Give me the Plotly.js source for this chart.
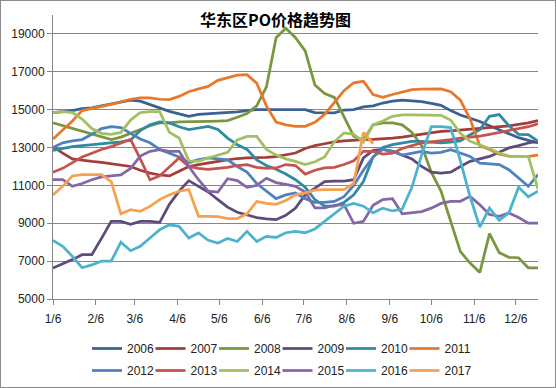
<!DOCTYPE html>
<html><head><meta charset="utf-8">
<script src="https://cdn.plot.ly/plotly-3.0.1.min.js"></script>
<style>
html,body{margin:0;padding:0;background:#fff}
#wrap{position:relative;width:556px;height:388px}
#chart{width:556px;height:388px}
#frame{position:absolute;left:0;top:0;width:556px;height:388px;box-sizing:border-box;border:1px solid #8c8c8c;pointer-events:none}
</style>
</head><body>
<div id="wrap"><div id="chart"></div><div id="frame"></div></div>
<script>
const weeks = ["2017-01-06","2017-01-13","2017-01-20","2017-01-27","2017-02-03","2017-02-10","2017-02-17","2017-02-24",
"2017-03-03","2017-03-10","2017-03-17","2017-03-24","2017-03-31","2017-04-07","2017-04-14","2017-04-21","2017-04-28",
"2017-05-05","2017-05-12","2017-05-19","2017-05-26","2017-06-02","2017-06-09","2017-06-16","2017-06-23","2017-06-30",
"2017-07-07","2017-07-14","2017-07-21","2017-07-28","2017-08-04","2017-08-11","2017-08-18","2017-08-25","2017-09-01",
"2017-09-08","2017-09-15","2017-09-22","2017-09-29","2017-10-06","2017-10-13","2017-10-20","2017-10-27","2017-11-03",
"2017-11-10","2017-11-17","2017-11-24","2017-12-01","2017-12-08","2017-12-15","2017-12-22"];
const tickDates = ["2017-01-06","2017-02-06","2017-03-06","2017-04-06","2017-05-06","2017-06-06","2017-07-06","2017-08-06","2017-09-06","2017-10-06","2017-11-06","2017-12-06"];
const tickLabels = ["1/6","2/6","3/6","4/6","5/6","6/6","7/6","8/6","9/6","10/6","11/6","12/6"];
const years = ["2006","2007","2008","2009","2010","2011","2012","2013","2014","2015","2016","2017"];
const colors = ["#3B6092","#A23D3A","#7A973F","#5F4A7C","#2F8AA2","#E8782A","#4F81BD","#C65350","#A2C062","#8467A6","#4CB3CC","#F7A04F"];

const p2006 = [14850,14900,14950,15050,15100,15200,15300,15380,15500,15450,15260,15080,14910,14780,14650,14750,14780,14790,14830,14880,14950,15000,15000,15000,15000,15000,15000,14850,14830,14830,14980,15000,15150,15200,15350,15450,15500,15480,15420,15330,15230,14950,14720,14550,14380,14150,13940,13720,13520,13380,13240];
const p2007 = [13050,12700,12400,12320,12270,12220,12150,12080,12000,11800,11650,11550,11500,11750,12000,12100,12200,12270,12350,12420,12450,12450,12480,12520,12600,12710,12950,13100,13200,13300,13350,13400,13420,13430,13450,13500,13550,13620,13700,13780,13850,13880,13920,13960,14000,14050,14100,14150,14220,14300,14420];
const p2008 = [14300,14150,14000,13850,13700,13550,13420,13550,13750,13950,14150,14300,14300,14350,14350,14380,14380,14400,14420,14600,14800,15200,16200,18800,19300,18800,18100,16300,15850,15650,14650,13600,13400,14200,14300,14300,14200,13800,13100,11700,10700,9100,7500,6900,6400,8450,7450,7200,7180,6650,6650];
const p2009 = [6640,6850,7080,7340,7340,8200,9100,9100,8950,9100,9100,9050,10000,10700,11250,10950,10650,10250,9850,9580,9420,9300,9230,9190,9420,9800,10500,10850,11200,11220,11220,11300,12450,12850,12900,12800,12600,12400,12000,11700,11650,11700,12000,12270,12400,12530,12750,12980,13100,13240,13330];
const p2010 = [12850,12950,13050,13100,13150,13200,13250,13300,13400,13900,14200,14350,14300,14100,13950,14050,14120,13950,13500,13150,12900,12350,12050,11850,11600,11300,10900,10250,9900,9900,10100,10500,11200,12500,13000,13150,13250,13330,13330,13300,13240,13280,13350,13680,13940,14650,14740,14150,13700,13680,13330];
const p2011 = [13450,13900,14400,14950,15050,15150,15280,15420,15550,15620,15620,15550,15530,15700,15950,16100,16230,16550,16700,16820,16850,16400,15200,14350,14200,14120,14120,14330,14750,15400,16000,16420,16500,15800,15650,15800,15950,16060,16080,16100,16100,15950,15500,14500,13100,12900,12650,12550,12530,12530,12600];
const p2012 = [13000,13250,13350,13420,13700,14000,14100,14050,13750,13450,13250,12900,12700,12500,12200,12360,12450,12400,12350,12000,11700,11100,10700,10300,10500,10600,10300,10100,10100,10150,10400,11000,11800,12500,12900,12800,12600,12700,12800,12700,12750,12890,12700,12530,12180,12150,12100,11830,11400,10950,11570];
const p2013 = [11700,11900,12200,12500,12700,12900,13050,13250,13420,12400,11300,11500,12000,12450,12000,11900,11850,11900,11950,12050,12100,11950,11900,11920,12100,12050,11600,11800,11920,11950,12100,12300,12800,12800,12650,12700,12950,13100,13240,13300,13350,13420,13500,13550,13600,13700,13800,13900,14000,14100,14250];
const p2014 = [14850,14900,14850,14500,14000,13750,13700,13800,14450,14850,14900,14900,13800,13500,12300,12280,12450,12600,12750,13400,13590,13590,12900,12600,12400,12270,12100,12250,12500,13300,13770,13700,13300,14200,14400,14650,14730,14730,14730,14730,14700,14450,13750,13330,13150,12950,12710,12550,12530,12530,10800];
const p2015 = [11300,11300,10950,11100,11300,11450,11500,11550,11900,12550,12800,12890,12800,12800,12000,11300,10700,10650,11350,11250,10900,11000,11380,11150,11050,10950,10650,9810,9810,9950,9980,9000,9100,9950,10250,10300,9500,9540,9620,9800,10050,10160,10160,10420,9980,9460,9370,9540,9300,9010,9010];
const p2016 = [8100,7780,7250,6650,6800,7000,7000,8000,7550,7780,8220,8660,8920,8840,8220,8490,8100,7960,8200,8040,8570,8040,8310,8250,8500,8570,8500,8700,9100,9500,9900,10050,9900,9550,9800,9650,9750,10900,12600,14100,14100,14050,12300,10400,8800,9800,9150,9550,10900,10400,10700];
const p2017 = [10500,10950,11500,11570,11570,11570,11200,9500,9720,9630,9890,10250,10500,10690,10780,9370,9370,9350,9250,9250,9500,10150,10050,10000,10200,10500,10600,10750,10780,10780,10780,11100,13800,13200];

const series = [p2006,p2007,p2008,p2009,p2010,p2011,p2012,p2013,p2014,p2015,p2016,p2017];

const traces = series.map((vals, k) => ({
  type: 'scatter', mode: 'lines', name: years[k],
  x: weeks.slice(0, vals.length), y: vals,
  line: {color: colors[k], width: 2.75},
  legend: k < 6 ? 'legend' : 'legend2',
  hoverinfo: 'x+y+name'
}));
// invisible spacer entries (one point far below the axis range, no marks) so the
// last legend label in each row is not clipped by the legend box
['legend', 'legend2'].forEach(lg => traces.push({
  type: 'scatter', mode: 'none', name: '\u00a0', x: [weeks[0]], y: [0],
  legend: lg, showlegend: true, hoverinfo: 'skip'
}));

const fontFam = '"Liberation Sans", Arial, "Noto Sans CJK SC", sans-serif';
const legendBase = {
  orientation: 'h', xref: 'container', yref: 'container',
  x: 87/556, xanchor: 'left', yanchor: 'middle',
  entrywidth: 18.5, entrywidthmode: 'pixels',
  font: {size: 12, color: '#222', family: fontFam},
  bgcolor: 'rgba(0,0,0,0)', traceorder: 'normal', itemwidth: 30
};

const layout = {
  width: 556, height: 388,
  margin: {l: 53, r: 18, t: 15, b: 89, pad: 0},
  paper_bgcolor: '#fff', plot_bgcolor: '#fff',
  font: {family: fontFam, size: 12, color: '#222'},
  title: {
    text: '华东区PO价格趋势图',
    font: {family: '"Noto Sans CJK SC", sans-serif', size: 16, color: '#000', weight: 'bold'},
    xref: 'container', yref: 'container', x: 0.4955, y: 1 - 20/388,
    xanchor: 'center', yanchor: 'middle'
  },
  xaxis: {
    type: 'date', range: ['2017-01-06', '2017-12-22'],
    tickmode: 'array', tickvals: tickDates, ticktext: tickLabels,
    showgrid: false, zeroline: false,
    showline: true, linecolor: '#868686', linewidth: 1,
    ticks: 'outside', ticklen: 5, tickcolor: '#868686',
    tickfont: {size: 12, color: '#222'}, ticklabelstandoff: 4
  },
  yaxis: {
    range: [5000, 20000], tick0: 5000, dtick: 2000, tickformat: 'd',
    showgrid: true, gridcolor: '#868686', gridwidth: 1, zeroline: false,
    showline: true, linecolor: '#868686', linewidth: 1,
    ticks: 'outside', ticklen: 5, tickcolor: '#868686',
    tickfont: {size: 12, color: '#222'}
  },
  legend: Object.assign({}, legendBase, {y: 1 - 348.5/388}),
  legend2: Object.assign({}, legendBase, {y: 1 - 370.5/388}),
  showlegend: true
};

Plotly.newPlot('chart', traces, layout, {displayModeBar: false, staticPlot: true});
</script>
</body></html>
